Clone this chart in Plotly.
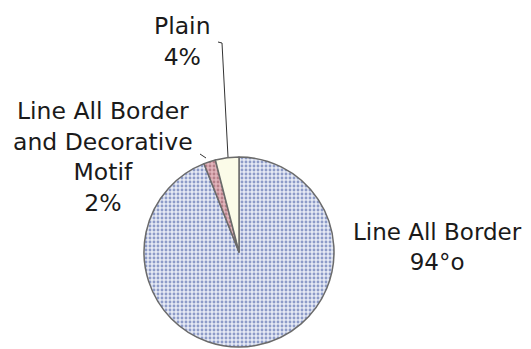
import plotly.graph_objects as go

labels = ["Line All Border", "Line All Border and Decorative Motif", "Plain"]
values = [94, 2, 4]
label_texts = ["Line All Border<br>94°o", "Line All Border<br>and Decorative<br>Motif<br>2%", "Plain<br>4%"]
bg_colors = ["#e6eaf5", "#e2b4bb", "#fbfbe8"]
dot_colors = ["#8d9bc8", "#b57f89", "#fbfbe8"]
shapes_pat = [".", ".", ""]

OFF = 8  # page body margin
W, H = 531 - OFF, 349 - OFF
cx, cy, r = 239 - OFF, 252 - OFF, 95

fig = go.Figure(go.Pie(
    labels=labels, values=values, sort=False, direction="clockwise",
    rotation=0, textinfo="none", hoverinfo="label+percent",
    marker=dict(colors=bg_colors,
                line=dict(color="#6b6b6b", width=1.5),
                pattern=dict(shape=shapes_pat, fgcolor=dot_colors, bgcolor=bg_colors,
                             size=4, solidity=0.4, fillmode="replace")),
    domain=dict(x=[(cx - r) / W, (cx + r) / W], y=[(H - cy - r) / H, (H - cy + r) / H]),
    showlegend=False,
))

font = dict(family="DejaVu Sans, sans-serif", size=23.5, color="#1a1a1a")
pos = [(437, 247), (103, 157), (182, 41.5)]
sizes = [23, 23.5, 23.5]
for (x, y), t, s in zip(pos, label_texts, sizes):
    fig.add_annotation(x=(x - OFF) / W, y=1 - (y - OFF) / H, xref="paper", yref="paper", text=t,
                       showarrow=False, xanchor="center", yanchor="middle",
                       font=dict(font, size=s))

# leader lines
lines = [[(218, 42), (222, 43), (228, 157)], [(200, 154), (206, 158)]]
for pts in lines:
    path = "M " + " L ".join(f"{(x - OFF) / W},{1 - (y - OFF) / H}" for x, y in pts)
    fig.add_shape(type="path", path=path, xref="paper", yref="paper",
                  line=dict(color="#333333", width=1))

fig.update_layout(width=W, height=H, margin=dict(l=0, r=0, t=0, b=0),
                  paper_bgcolor="white", plot_bgcolor="white")
fig.write_html("out.html")
